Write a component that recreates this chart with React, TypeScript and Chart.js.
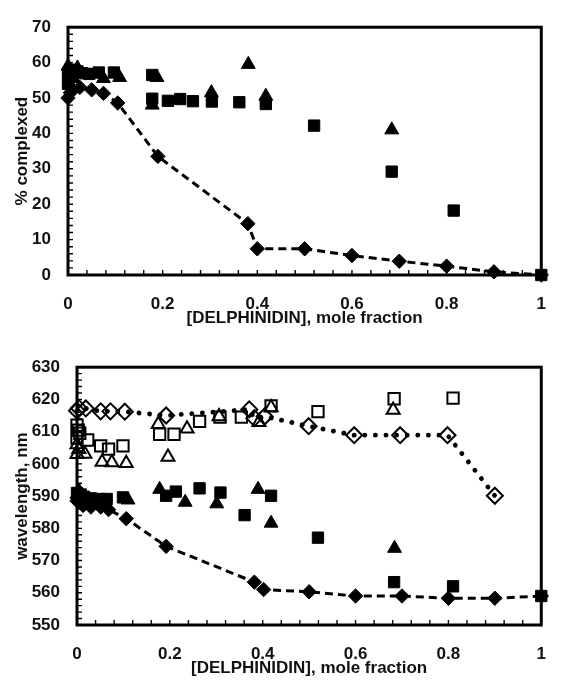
import { useEffect, useRef } from 'react';
import { Chart, registerables } from 'chart.js';

Chart.register(...registerables);

// ---- shared axis ticks ----
const xTickValues = [0, 0.2, 0.4, 0.6, 0.8, 1];
const xTickLabels = ['0', '0.2', '0.4', '0.6', '0.8', '1'];
const complexedTicks = [0, 10, 20, 30, 40, 50, 60, 70];
const wavelengthTicks = [550, 560, 570, 580, 590, 600, 610, 620, 630];

// ---- % complexed vs. mole fraction ----
const pctDiamondX = [0, 0.005, 0.01, 0.025, 0.05, 0.075, 0.105, 0.19, 0.38, 0.4, 0.5, 0.6, 0.7, 0.8, 0.9, 1.0];
const pctDiamondY = [50, 51.5, 52.5, 53, 52.3, 51.3, 48.6, 33.5, 14.5, 7.4, 7.4, 5.5, 3.9, 2.5, 0.9, 0];

const pctSquareX = [0, 0, 0.005, 0.01, 0.02, 0.03, 0.045, 0.065, 0.097, 0.178, 0.178, 0.211, 0.237, 0.264, 0.304, 0.362, 0.418, 0.52, 0.684, 0.815, 1.0];
const pctSquareY = [57, 54, 58, 56.5, 57.5, 57, 56.8, 57.2, 57.2, 56.5, 49.8, 49.2, 49.7, 49.1, 49, 48.8, 48.3, 42.2, 29.2, 18.2, 0];

const pctTriangleX = [0, 0.005, 0.01, 0.02, 0.075, 0.109, 0.178, 0.188, 0.303, 0.381, 0.418, 0.684];
const pctTriangleY = [59, 57.5, 55.5, 58.5, 55.5, 55.8, 48, 55.8, 51.5, 59.5, 50.5, 41];

// ---- wavelength vs. mole fraction ----
const nmDiamondX = [0, 0.005, 0.013, 0.03, 0.051, 0.068, 0.106, 0.192, 0.382, 0.402, 0.5, 0.6, 0.7, 0.8, 0.9, 1.0];
const nmDiamondY = [588.5, 589, 587.1, 586.6, 586.6, 585.8, 583, 574.4, 563.3, 561, 560.3, 559, 559, 558.3, 558.3, 559];

const nmSquareX = [0, 0.003, 0.008, 0.015, 0.03, 0.048, 0.064, 0.099, 0.192, 0.213, 0.264, 0.309, 0.361, 0.418, 0.519, 0.683, 0.81, 1.0];
const nmSquareY = [591, 589.5, 590.5, 589.8, 589.3, 589.1, 589.1, 589.6, 590.1, 591.4, 592.4, 591.1, 584.1, 590.1, 577.1, 563.3, 562, 559];

const nmTriangleX = [0, 0.005, 0.012, 0.11, 0.178, 0.233, 0.301, 0.39, 0.418, 0.684];
const nmTriangleY = [590.5, 591.5, 590, 588.8, 592.1, 588.1, 587.6, 592.1, 581.6, 573.8];

const nmOpenSquareX = [0, 0, 0.003, 0.006, 0.023, 0.051, 0.068, 0.099, 0.178, 0.209, 0.264, 0.308, 0.354, 0.418, 0.519, 0.683, 0.81];
const nmOpenSquareY = [612, 608, 610.5, 609.5, 607.4, 605.6, 604.6, 605.6, 609.2, 609.2, 613.2, 614.5, 614.5, 618, 616.2, 620.2, 620.4];

const nmOpenTriangleX = [0, 0, 0.004, 0.017, 0.054, 0.075, 0.106, 0.175, 0.196, 0.237, 0.306, 0.392, 0.418, 0.681];
const nmOpenTriangleY = [606, 603, 604.5, 603.1, 600.6, 600.4, 600.2, 612.3, 602.1, 610.9, 614.7, 612.9, 617.5, 616.7];

const nmOpenDiamondX = [0, 0.004, 0.019, 0.051, 0.072, 0.103, 0.192, 0.371, 0.382, 0.404, 0.499, 0.597, 0.696, 0.798, 0.9];
const nmOpenDiamondY = [616.5, 617.3, 617.2, 616.3, 616.3, 616.2, 615, 616.9, 614.2, 614.7, 611.7, 608.9, 608.9, 608.9, 590.1];

const FONT_FAMILY = '"Liberation Sans", Arial, Helvetica, sans-serif';
const INK = '#111';
const labelFont = { family: FONT_FAMILY, size: 17, weight: 'bold' as const };

const toPoints = (xs: number[], ys: number[]) => xs.map((x, i) => ({ x, y: ys[i] }));

const filled = (label: string, xs: number[], ys: number[], style: string, radius: number) => ({
  label,
  data: toPoints(xs, ys),
  showLine: false,
  pointStyle: style,
  pointRadius: radius,
  pointBackgroundColor: '#000',
  pointBorderColor: '#000',
  pointBorderWidth: 1,
  clip: false,
});

const hollow = (label: string, xs: number[], ys: number[], style: string, radius: number) => ({
  label,
  data: toPoints(xs, ys),
  showLine: false,
  pointStyle: style,
  pointRadius: radius,
  pointBackgroundColor: 'rgba(0,0,0,0)',
  pointBorderColor: '#000',
  pointBorderWidth: 2,
  clip: false,
});

const dashedDiamonds = (label: string, xs: number[], ys: number[]) => ({
  ...filled(label, xs, ys, 'rectRot', 7.2),
  showLine: true,
  borderColor: '#000',
  borderWidth: 3,
  borderDash: [8, 5],
});

const dottedOpenDiamonds = (label: string, xs: number[], ys: number[]) => ({
  ...hollow(label, xs, ys, 'rectRot', 8),
  showLine: true,
  borderColor: '#000',
  borderWidth: 4.8,
  borderCapStyle: 'round',
  borderDash: [0.1, 10.5],
});

// Plot frame plus inward minor ticks along both axes
const framePlugin = {
  id: 'plotFrame',
  beforeDatasetsDraw(chart: any, _args: any, opts: any) {
    const { ctx, chartArea, scales } = chart;
    const { left, right, top, bottom } = chartArea;
    const x = scales.x;
    const y = scales.y;
    ctx.save();
    ctx.strokeStyle = '#000';
    ctx.lineWidth = 1.4;
    ctx.beginPath();
    const xSteps = Math.round((x.max - x.min) / opts.xStep);
    for (let i = 0; i <= xSteps; i++) {
      const px = x.getPixelForValue(x.min + i * opts.xStep);
      ctx.moveTo(px, bottom);
      ctx.lineTo(px, bottom - 5);
    }
    const ySteps = Math.round((y.max - y.min) / opts.yStep);
    for (let i = 0; i <= ySteps; i++) {
      const py = y.getPixelForValue(y.min + i * opts.yStep);
      ctx.moveTo(left, py);
      ctx.lineTo(left + 5, py);
    }
    ctx.stroke();
    ctx.lineWidth = 3;
    ctx.strokeRect(left, top, right - left, bottom - top);
    ctx.restore();
  },
};

type PanelSpec = {
  width: number;
  height: number;
  padding: { left: number; top: number; right: number; bottom: number };
  yAxisWidth: number;
  xAxisHeight: number;
  yMin: number;
  yMax: number;
  yTicks: number[];
  yTitle: string;
  yMinorStep: number;
  xTitleBottom: number;
  datasets: any[];
};

function buildConfig(spec: PanelSpec): any {
  return {
    type: 'scatter',
    data: { datasets: spec.datasets },
    plugins: [framePlugin],
    options: {
      responsive: false,
      maintainAspectRatio: false,
      animation: false,
      events: [],
      layout: { padding: spec.padding },
      plugins: {
        legend: { display: false },
        tooltip: { enabled: false },
        plotFrame: { xStep: 0.04, yStep: spec.yMinorStep },
      },
      scales: {
        x: {
          type: 'linear',
          min: 0,
          max: 1,
          afterBuildTicks: (s: any) => {
            s.ticks = xTickValues.map((v) => ({ value: v }));
          },
          afterFit: (s: any) => {
            s.height = spec.xAxisHeight;
          },
          ticks: {
            autoSkip: false,
            maxRotation: 0,
            padding: 19,
            color: INK,
            font: labelFont,
            callback: (_v: any, i: number) => xTickLabels[i],
          },
          grid: { display: false, drawTicks: false },
          border: { display: false },
          title: {
            display: true,
            text: '[DELPHINIDIN], mole fraction',
            color: INK,
            font: labelFont,
            padding: { top: 0, bottom: spec.xTitleBottom },
          },
        },
        y: {
          type: 'linear',
          min: spec.yMin,
          max: spec.yMax,
          afterBuildTicks: (s: any) => {
            s.ticks = spec.yTicks.map((v) => ({ value: v }));
          },
          afterFit: (s: any) => {
            s.width = spec.yAxisWidth;
          },
          ticks: {
            autoSkip: false,
            padding: 17,
            color: INK,
            font: labelFont,
            callback: (v: any) => String(v),
          },
          grid: { display: false, drawTicks: false },
          border: { display: false },
          title: {
            display: true,
            text: spec.yTitle,
            color: INK,
            font: labelFont,
            padding: { top: 11.8, bottom: 0 },
          },
        },
      },
    },
  };
}

const complexedPanel: PanelSpec = {
  width: 565,
  height: 340,
  padding: { left: 0, top: 22, right: 6, bottom: 0 },
  yAxisWidth: 68,
  xAxisHeight: 65,
  yMin: 0,
  yMax: 70,
  yTicks: complexedTicks,
  yTitle: '% complexed',
  yMinorStep: 2,
  xTitleBottom: 11,
  datasets: [
    dashedDiamonds('diamonds', pctDiamondX, pctDiamondY),
    filled('squares', pctSquareX, pctSquareY, 'rect', 8),
    filled('triangles', pctTriangleX, pctTriangleY, 'triangle', 8),
  ],
};

const wavelengthPanel: PanelSpec = {
  width: 565,
  height: 345,
  padding: { left: 0, top: 18, right: 4, bottom: 0 },
  yAxisWidth: 77,
  xAxisHeight: 60,
  yMin: 550,
  yMax: 630,
  yTicks: wavelengthTicks,
  yTitle: 'wavelength, nm',
  yMinorStep: 2,
  xTitleBottom: 6,
  datasets: [
    dashedDiamonds('filled diamonds', nmDiamondX, nmDiamondY),
    filled('filled squares', nmSquareX, nmSquareY, 'rect', 8),
    filled('filled triangles', nmTriangleX, nmTriangleY, 'triangle', 8),
    hollow('open squares', nmOpenSquareX, nmOpenSquareY, 'rect', 8),
    hollow('open triangles', nmOpenTriangleX, nmOpenTriangleY, 'triangle', 7.5),
    dottedOpenDiamonds('open diamonds', nmOpenDiamondX, nmOpenDiamondY),
  ],
};

function Panel({ spec }: { spec: PanelSpec }) {
  const ref = useRef<HTMLCanvasElement>(null);
  useEffect(() => {
    if (!ref.current) return;
    const chart = new Chart(ref.current, buildConfig(spec));
    return () => chart.destroy();
  }, [spec]);
  return (
    <canvas
      ref={ref}
      width={spec.width}
      height={spec.height}
      style={{ display: 'block', width: spec.width, height: spec.height }}
    />
  );
}

export default function App() {
  return (
    <div style={{ position: 'absolute', left: 0, top: 0, width: 565, height: 685, background: '#fff' }}>
      <Panel spec={complexedPanel} />
      <Panel spec={wavelengthPanel} />
    </div>
  );
}
